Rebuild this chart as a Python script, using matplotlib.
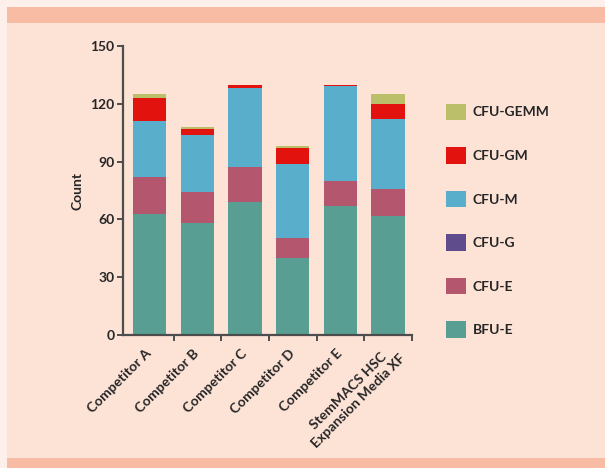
import matplotlib
matplotlib.use('Agg')

import numpy as np
import matplotlib.pyplot as plt
import matplotlib.transforms as mtransforms
from matplotlib.patches import Rectangle, Patch

##########
groups = ['Competitor A', 'Competitor B', 'Competitor C', 'Competitor D',
          'Competitor E', 'StemMACS HSC\nExpansion Media XF']
bfu_e = [63, 58, 69, 40, 67, 62]
cfu_e = [19, 16, 18, 10.5, 13, 14]
cfu_g = [0, 0, 0, 0, 0, 0]
cfu_m = [29, 30, 41, 38.5, 49, 36]
cfu_gm = [12, 3, 2, 8, 1, 8]
cfu_gemm = [2, 1, 0, 1, 0, 5]
yticks = [0, 30, 60, 90, 120, 150]

series = [('BFU-E', bfu_e, '#589e92'),
          ('CFU-E', cfu_e, '#b5566f'),
          ('CFU-G', cfu_g, '#5f4c8c'),
          ('CFU-M', cfu_m, '#59aecb'),
          ('CFU-GM', cfu_gm, '#e2120f'),
          ('CFU-GEMM', cfu_gemm, '#bbbf69')]

##########
plt.rcParams['font.family'] = ['Lato', 'DejaVu Sans']
plt.rcParams['font.weight'] = 'bold'
plt.rcParams['axes.labelweight'] = 'bold'
FS = 10
dark = '#262626'
spine_col = '#4d4d4d'

W, H = 605, 468
fig = plt.figure(figsize=(W/100, H/100), dpi=100, facecolor='#fdf0ea')

# background panel and bands
fig.patches.append(Rectangle((6.7/W, 10/H), 1, (445-10)/H, transform=fig.transFigure,
                             facecolor='#fde2d6', edgecolor='none', zorder=-3))
fig.patches.append(Rectangle((6.7/W, (468-23)/H), 1, 16.3/H, transform=fig.transFigure,
                             facecolor='#f8bba3', edgecolor='none', zorder=-3))
fig.patches.append(Rectangle((6.7/W, 0), 1, 10/H, transform=fig.transFigure,
                             facecolor='#f8bba3', edgecolor='none', zorder=-3))

ax = fig.add_axes([123/W, (468-335)/H, (412-123)/W, (335-46)/H])
ax.set_facecolor('none')

x = np.arange(len(groups))
bottom = np.zeros(len(groups))
for name, vals, col in series:
    ax.bar(x, vals, width=0.7, bottom=bottom, color=col, edgecolor='none', label=name)
    bottom += np.array(vals)

ax.set_xlim(-0.56, 5.5)
ax.set_ylim(0, 150)
ax.set_yticks(yticks)
ax.set_yticklabels([str(v) for v in yticks], fontsize=FS, color=dark)

ax.set_xticks(list(x[1:] - 0.5) + [5.5])
ax.set_xticklabels([])
ax.set_xticks(x, minor=True)
ax.set_xticklabels(groups, minor=True, rotation=45, ha='right', va='center',
                   rotation_mode='anchor', fontsize=FS, color=dark,
                   multialignment='center')
ax.tick_params(axis='x', which='minor', length=0, pad=12)
ax.tick_params(axis='both', which='major', direction='out', length=4,
               width=1.4, color=spine_col, pad=2)
last = ax.get_xticklabels(minor=True)[-1]
last.set_transform(last.get_transform() +
                   mtransforms.ScaledTranslation(0.1, 0.0, fig.dpi_scale_trans))

for s in ['top', 'right']:
    ax.spines[s].set_visible(False)
for s in ['left', 'bottom']:
    ax.spines[s].set_color(spine_col)
    ax.spines[s].set_linewidth(1.6)

ax.set_ylabel('Count', fontsize=FS, color=dark, fontweight='bold', labelpad=5)

handles = [Patch(facecolor=c, edgecolor='none', label=n) for n, v, c in series][::-1]
leg = ax.legend(handles=handles, loc='upper left', bbox_to_anchor=(433/W, (468-91)/H),
                bbox_transform=fig.transFigure, frameon=False, fontsize=FS,
                handlelength=1.45, handleheight=1.45, labelspacing=1.95,
                handletextpad=0.5)
for t in leg.get_texts():
    t.set_color(dark)

fig.savefig('out.png', dpi=100, facecolor=fig.get_facecolor())
